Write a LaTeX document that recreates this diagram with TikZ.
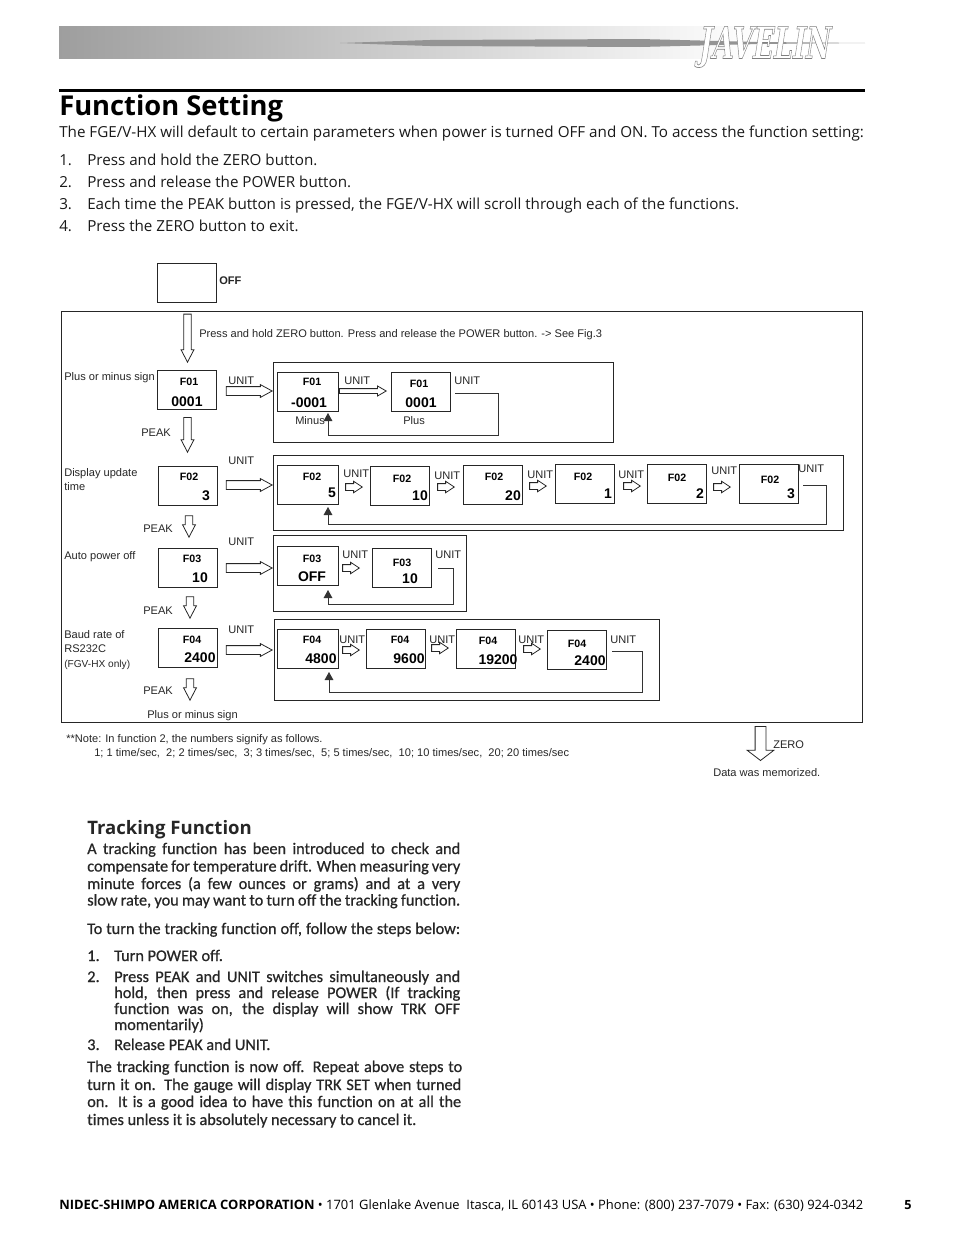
\documentclass[tikz,border=0pt]{standalone}
\usepackage{fontspec}
\usepackage{xcolor}
\usetikzlibrary{arrows.meta}
\usetikzlibrary{shapes.arrows}
\setmainfont{Liberation Sans}
\newfontfamily\pagefont{Open Sans}
\newfontfamily\scanfont[FakeBold=.7,Ligatures=NoCommon]{Carlito}
\newfontfamily\logofont{DejaVu Serif}

\tikzset{
	disp/.style={draw=black!85, line width=.75pt, minimum width=44.25pt, minimum height=29.25pt, inner sep=0},
	wide/.style={minimum width=45.75pt},
	fname/.style={font=\fontsize{8}{8}\selectfont\bfseries, inner sep=0},
	fval/.style={font=\fontsize{10.5}{10.5}\selectfont\bfseries, inner sep=0},
	lbl/.style={font=\fontsize{8.3}{8.3}\selectfont, anchor=west, inner sep=0, text height=6pt, text depth=0pt, text=black!85},
	tiny/.style={font=\fontsize{7.6}{7.6}\selectfont, anchor=west, inner sep=0, text height=6pt, text depth=0pt, text=black!85},
	pagetext/.style={font=\pagefont\fontsize{11.4}{11.4}\selectfont, anchor=west, inner sep=0, text height=9pt, text depth=1.5pt, text=black!90},
	foot/.style={font=\pagefont\fontsize{9.7}{9.7}\selectfont, anchor=west, inner sep=0, text height=7.5pt, text depth=1pt},
	scan/.style={font=\scanfont\fontsize{12.2}{12.2}\selectfont, anchor=west, inner sep=0, text height=9pt, text depth=1.5pt, text=black!85},
	blockarrow/.style={single arrow, draw=black!85, line width=.6pt, fill=white, inner xsep=0pt, anchor=tip},
	unitarrow/.style={blockarrow, minimum height=34.5pt, inner ysep=3pt, single arrow head extend=1.5pt, single arrow tip angle=57},
	thinarrow/.style={blockarrow, minimum height=35pt, inner ysep=1.5pt, single arrow head extend=2pt, single arrow tip angle=60},
	stepunit/.style={blockarrow, minimum height=12.5pt, inner ysep=2.25pt, single arrow head extend=1.75pt, single arrow tip angle=67},
	peakarrow/.style={blockarrow, rotate=-90, inner ysep=2.5pt, single arrow head extend=2pt, single arrow tip angle=55},
	backline/.style={draw=black!80, line width=.65pt, -{Triangle[length=6pt,width=6.5pt]}},
	framed/.style={draw=black!85, line width=.75pt}
}

\begin{document}
\begin{tikzpicture}[x=.75pt,y=-.75pt]

	\useasboundingbox (0,0) rectangle (954,1235);

	% Header band
	\shade[left color=black!38, right color=black!3] (59,26) rectangle (700,58);
	\shade[left color=black!3, right color=white] (700,26) rectangle (760,58);
	\fill[black!42] (340,43) -- (430,40) -- (640,39) -- (760,42) -- (865,43) -- (760,44) -- (640,47) -- (430,46) -- cycle;
	\node[xscale=.62, xslant=.25, inner sep=0, font=\logofont\bfseries\fontsize{33}{33}\selectfont] (logo) at (765,47) {\special{pdf:code q 1 1 1 rg .5 G 2 Tr .5 w}JAVELIN\special{pdf:code Q}};

	% Title
	\fill[black] (59,88.5) rectangle (865,91.5);
	\node[font=\pagefont\fontsize{20.5}{20.5}\selectfont\bfseries, anchor=west, inner sep=0] (title) at (59,108.5) {Function Setting};
	\node[pagetext] (intro) at (59,132) {The FGE/V-HX will default to certain parameters when power is turned OFF and ON. To access the function setting:};
	\node[pagetext] (num1) at (59,160.5) {1.};
	\node[pagetext] (step1) at (87,160.5) {Press and hold the ZERO button.};
	\node[pagetext] (num2) at (59,182.5) {2.};
	\node[pagetext] (step2) at (87,182.5) {Press and release the POWER button.};
	\node[pagetext] (num3) at (59,204.5) {3.};
	\node[pagetext] (step3) at (87,204.5) {Each time the PEAK button is pressed, the FGE/V-HX will scroll through each of the functions.};
	\node[pagetext] (num4) at (59,226.5) {4.};
	\node[pagetext] (step4) at (87,226.5) {Press the ZERO button to exit.};

	% Outer frame and the OFF display
	\draw[framed] (61,311) rectangle (862,722);
	\node[disp] (offbox) at (187,283) {};
	\node[lbl, font=\fontsize{8.3}{8.3}\selectfont\bfseries] (offtext) at (219,280) {OFF};
	\node[peakarrow, minimum height=36pt] (startarrow) at (187.5,363) {};
	\node[lbl] (pressnote) at (199,333) {Press and hold ZERO button. Press and release the POWER button. -> See Fig.3};

	% Groups
	\draw[framed] (273,362) rectangle (613,442);
	\draw[framed] (273,455) rectangle (843,530);
	\draw[framed] (273,535) rectangle (466,611);
	\draw[framed] (274,619) rectangle (659,700);

	% Function 1
	\node[lbl] (plusminus) at (64,376) {Plus or minus sign};
	\node[disp] (f01main) at (187,390) {};
	\node[fname] (f01mainname) at (189,382) {F01};
	\node[fval] (f01mainval) at (187,401.5) {0001};
	\node[lbl] (unita) at (228,380) {UNIT};
	\node[unitarrow] (arrowa) at (273,391) {};
	\node[disp, wide] (f01a) at (308,392) {};
	\node[fname] (f01aname) at (312,382) {F01};
	\node[fval] (f01aval) at (309,403) {-0001};
	\node[lbl] (unitb) at (344,380) {UNIT};
	\node[thinarrow] (arrowb) at (387,391) {};
	\node[disp] (f01b) at (420.5,392) {};
	\node[fname] (f01bname) at (419,384) {F01};
	\node[fval] (f01bval) at (421,403) {0001};
	\node[lbl] (unitc) at (454,380) {UNIT};
	\node[lbl] (minus) at (295,420) {Minus};
	\node[lbl] (plus) at (403,420) {Plus};
	\coordinate (backas) at (455,393);
	\coordinate (backac) at (498,435);
	\coordinate (backae) at (328,413);
	\draw[backline] (backas) -| (backac) -| (backae);

	% Function 2
	\node[lbl] (peaka) at (141,432) {PEAK};
	\node[peakarrow, minimum height=26pt] (peakarrowa) at (187.5,453) {};
	\node[lbl] (displaya) at (64,472.5) {Display update};
	\node[lbl] (displayb) at (64,486) {time};
	\node[disp] (f02main) at (188,486) {};
	\node[fname] (f02mainname) at (189,477) {F02};
	\node[fval] (f02mainval) at (206,496) {3};
	\node[lbl] (unitd) at (228,460) {UNIT};
	\node[unitarrow] (arrowd) at (273,485) {};
	\node[disp, wide] (f02a) at (308,485) {};
	\node[fname] (f02aname) at (312,477) {F02};
	\node[fval] (f02aval) at (332,493) {5};
	\node[lbl] (unite) at (343,473) {UNIT};
	\node[stepunit] (arrowe) at (363,487) {};
	\node[disp] (f02b) at (400,485.5) {};
	\node[fname] (f02bname) at (402,479) {F02};
	\node[fval] (f02bval) at (420,496) {10};
	\node[lbl] (unitf) at (434,475) {UNIT};
	\node[stepunit] (arrowf) at (455,487) {};
	\node[disp] (f02c) at (493,485) {};
	\node[fname] (f02cname) at (494,477) {F02};
	\node[fval] (f02cval) at (513,496) {20};
	\node[lbl] (unitg) at (527,474) {UNIT};
	\node[stepunit] (arrowg) at (547,486) {};
	\node[disp] (f02d) at (584.5,483.5) {};
	\node[fname] (f02dname) at (583,477) {F02};
	\node[fval] (f02dval) at (608,494) {1};
	\node[lbl] (unith) at (618,474) {UNIT};
	\node[stepunit] (arrowh) at (641,486) {};
	\node[disp] (f02e) at (676.5,483.5) {};
	\node[fname] (f02ename) at (677,478) {F02};
	\node[fval] (f02eval) at (700,494) {2};
	\node[lbl] (uniti) at (711,470) {UNIT};
	\node[stepunit] (arrowi) at (731,487) {};
	\node[disp] (f02f) at (768.5,483.5) {};
	\node[fname] (f02fname) at (770,480) {F02};
	\node[fval] (f02fval) at (791,494) {3};
	\node[lbl] (unitj) at (798,468) {UNIT};
	\coordinate (backbs) at (803,485);
	\coordinate (backbc) at (826,524);
	\coordinate (backbe) at (328,507);
	\draw[backline] (backbs) -| (backbc) -| (backbe);

	% Function 3
	\node[lbl] (peakb) at (143,528) {PEAK};
	\node[peakarrow, minimum height=16pt] (peakarrowb) at (189,538) {};
	\node[lbl] (unitk) at (228,541) {UNIT};
	\node[lbl] (autopower) at (64,555) {Auto power off};
	\node[disp] (f03main) at (188,567.5) {};
	\node[fname] (f03mainname) at (192,559) {F03};
	\node[fval] (f03mainval) at (200,578) {10};
	\node[unitarrow] (arrowk) at (273,568) {};
	\node[disp, wide] (f03a) at (308,566) {};
	\node[fname] (f03aname) at (312,559) {F03};
	\node[fval] (f03aval) at (312,577) {OFF};
	\node[lbl] (unitl) at (342,554) {UNIT};
	\node[stepunit] (arrowl) at (360,568) {};
	\node[disp] (f03b) at (402,567.5) {};
	\node[fname] (f03bname) at (402,563) {F03};
	\node[fval] (f03bval) at (410,579) {10};
	\node[lbl] (unitm) at (435,554) {UNIT};
	\coordinate (backcs) at (438,568);
	\coordinate (backcc) at (453,604);
	\coordinate (backce) at (328,590);
	\draw[backline] (backcs) -| (backcc) -| (backce);

	% Function 4
	\node[lbl] (peakc) at (143,610) {PEAK};
	\node[peakarrow, minimum height=16pt] (peakarrowc) at (190,619) {};
	\node[lbl] (unitn) at (228,629) {UNIT};
	\node[lbl] (bauda) at (64,634) {Baud rate of};
	\node[lbl] (baudb) at (64,648) {RS232C};
	\node[tiny] (baudc) at (64,663) {(FGV-HX only)};
	\node[disp] (f04main) at (188,647.5) {};
	\node[fname] (f04mainname) at (192,640) {F04};
	\node[fval] (f04mainval) at (200,658) {2400};
	\node[unitarrow] (arrown) at (273,650) {};
	\node[disp, wide] (f04a) at (308,648.5) {};
	\node[fname] (f04aname) at (312,640) {F04};
	\node[fval] (f04aval) at (321,659) {4800};
	\node[lbl] (unito) at (339,639) {UNIT};
	\node[stepunit] (arrowo) at (360,650) {};
	\node[disp] (f04b) at (396,648.5) {};
	\node[fname] (f04bname) at (400,640) {F04};
	\node[fval] (f04bval) at (409,659) {9600};
	\node[lbl] (unitp) at (429,639) {UNIT};
	\node[stepunit] (arrowp) at (449,648) {};
	\node[disp] (f04c) at (485.5,648.5) {};
	\node[fname] (f04cname) at (488,641) {F04};
	\node[fval] (f04cval) at (498,660) {19200};
	\node[lbl] (unitq) at (518,639) {UNIT};
	\node[stepunit] (arrowq) at (541,649) {};
	\node[disp] (f04d) at (576.5,650) {};
	\node[fname] (f04dname) at (577,644) {F04};
	\node[fval] (f04dval) at (590,661) {2400};
	\node[lbl] (unitr) at (610,639) {UNIT};
	\coordinate (backds) at (612,651);
	\coordinate (backdc) at (642,692);
	\coordinate (backde) at (329,672);
	\draw[backline] (backds) -| (backdc) -| (backde);
	\node[lbl] (peakd) at (143,690) {PEAK};
	\node[peakarrow, minimum height=16pt] (peakarrowd) at (190,701) {};
	\node[lbl] (plusminusb) at (147,714) {Plus or minus sign};

	% Note and memorized
	\node[lbl] (notea) at (66,738) {**Note: In function 2, the numbers signify as follows.};
	\node[lbl] (noteb) at (94,752) {1; 1 time/sec,\ \ 2; 2 times/sec,\ \ 3; 3 times/sec,\ \ 5; 5 times/sec,\ \ 10; 10 times/sec,\ \ 20; 20 times/sec};
	\node[peakarrow, minimum height=25.5pt, inner ysep=3.75pt, single arrow head extend=6pt, single arrow tip angle=105] (zeroarrow) at (760.5,761) {};
	\node[lbl] (zerotext) at (773,744) {ZERO};
	\node[lbl] (memorized) at (713,772) {Data was memorized.};

	% Tracking function text
	\node[scan, font=\pagefont\fontsize{13.9}{13.9}\selectfont\bfseries] (tracktitle) at (87,829) {Tracking Function};
	\node[scan] (tracka) at (87,849) {\makebox[279.75pt][s]{A tracking function has been introduced to check and}};
	\node[scan] (trackb) at (87,866.5) {\makebox[279.75pt][s]{compensate for temperature drift. When measuring very}};
	\node[scan] (trackc) at (87,884) {\makebox[279.75pt][s]{minute forces (a few ounces or grams) and at a very}};
	\node[scan] (trackd) at (87,900.5) {\makebox[279.75pt][s]{slow rate, you may want to turn off the tracking function.}};
	\node[scan] (tracke) at (87,929) {\makebox[279.75pt][s]{To turn the tracking function off, follow the steps below:}};
	\node[scan] (tracknuma) at (87,956) {1.};
	\node[scan] (trackf) at (114,956) {Turn POWER off.};
	\node[scan] (tracknumb) at (87,977) {2.};
	\node[scan] (trackg) at (114,977) {\makebox[259.5pt][s]{Press PEAK and UNIT switches simultaneously and}};
	\node[scan] (trackh) at (114,993) {\makebox[259.5pt][s]{hold, then press and release POWER (If tracking}};
	\node[scan] (tracki) at (114,1009) {\makebox[259.5pt][s]{function was on, the display will show TRK OFF}};
	\node[scan] (trackj) at (114,1025) {momentarily)};
	\node[scan] (tracknumc) at (87,1045) {3.};
	\node[scan] (trackk) at (114,1045) {Release PEAK and UNIT.};
	\node[scan] (trackl) at (87,1067) {\makebox[281.25pt][s]{The tracking function is now off. Repeat above steps to}};
	\node[scan] (trackm) at (87,1085) {\makebox[280.5pt][s]{turn it on. The gauge will display TRK SET when turned}};
	\node[scan] (trackn) at (87,1102) {\makebox[280.5pt][s]{on. It is a good idea to have this function on at all the}};
	\node[scan] (tracko) at (87,1120) {times unless it is absolutely necessary to cancel it.};

	% Footer
	\node[foot] (footer) at (59,1205.5) {\textbf{NIDEC-SHIMPO AMERICA CORPORATION} • 1701 Glenlake Avenue\ \ Itasca, IL 60143 USA • Phone: (800) 237-7079 • Fax: (630) 924-0342};
	\node[foot, font=\pagefont\fontsize{9.5}{9.5}\selectfont\bfseries] (pagenum) at (904,1205.5) {5};

\end{tikzpicture}
\end{document}
